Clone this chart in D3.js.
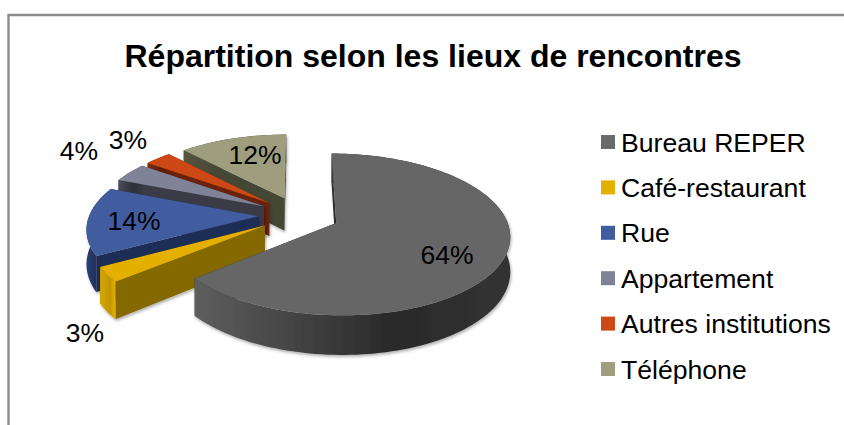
<!DOCTYPE html>
<html>
<head>
<meta charset="utf-8">
<script src="https://cdnjs.cloudflare.com/ajax/libs/d3/7.8.5/d3.min.js"></script>
<style>
  html, body { margin: 0; padding: 0; background: #fff; }
  text { font-family: "Liberation Sans", Arial, sans-serif; fill: #000; }
</style>
</head>
<body>
<div id="canvas"></div>
<script>
// data
const categories = ["Bureau REPER", "Café-restaurant", "Rue", "Appartement", "Autres institutions", "Téléphone"];
const values = [64, 3, 14, 4, 3, 12];
const title = "Répartition selon les lieux de rencontres";

// colours per category
const topColors = ["#666666", "#e3b000", "#425d9f", "#808398", "#cc4a14", "#9e9e7e"];
const cutColors = ["#2e2e2e", "#846800", "#1f2d55", "#3a3b46", "#6b2208", "#454635"];
const wallDark = ["#2a2a2a", "#c09400", "#1a2648", "#2e2f3a", "#5a1c06", "#3a3b2c"];
const wallLight = ["#5e5e5e", "#d8a800", "#2c3f77", "#4b4c5a", "#84300c", "#55563f"];

const width = 844;
const height = 425;

// projection of the pie: unit circle + height, seen from the front
const cx = 299, cy = 215;
const rx = 169, ry = 77, persp = 0.14, depth = 33.5, explode = 0.24;

const project = (x, y, h) => {
    const f = 1 / (1 - persp * y);
    return [cx + rx * x * f, cy + (ry * y + depth * h) * f];
};

const svg = d3.select("#canvas")
    .append("svg")
    .attr("width", width)
    .attr("height", height)
    .attr("viewBox", [0, 0, width, height])
    .style("display", "block");

const defs = svg.append("defs");

defs.append("filter")
    .attr("id", "soft")
    .attr("x", "-10%").attr("y", "-10%").attr("width", "120%").attr("height", "125%")
  .append("feDropShadow")
    .attr("dx", 1).attr("dy", 2)
    .attr("stdDeviation", 1.5)
    .attr("flood-color", "#000")
    .attr("flood-opacity", 0.3);

// frame
svg.append("path")
    .attr("d", d3.line()([[8.5, height], [8.5, 15], [width, 15]]))
    .attr("fill", "none")
    .attr("stroke", "#8c8c8c")
    .attr("stroke-width", 2.4);

svg.append("text")
    .attr("x", 433)
    .attr("y", 67)
    .attr("text-anchor", "middle")
    .attr("font-size", 32)
    .attr("font-weight", "bold")
    .text(title);

// slices
const pie = d3.pie().sort(null).value(d => d)(values);
const line = d3.line();

const slices = pie.map((p, i) => {
    const mid = (p.startAngle + p.endAngle) / 2;
    const ox = explode * Math.sin(mid);
    const oy = -explode * Math.cos(mid);
    const steps = Math.max(4, Math.ceil((p.endAngle - p.startAngle) / 0.03));
    const angles = d3.range(steps + 1).map(k => p.startAngle + (p.endAngle - p.startAngle) * k / steps);
    const rim = angles.map(a => [ox + Math.sin(a), oy - Math.cos(a)]);
    return { i, apex: [ox, oy], rim };
});

// gradient for the curved wall, lit at both ends of the pie
const wallGrad = s => {
    const id = "wall" + s.i;
    const xs = d3.extent(s.rim, d => project(d[0], d[1], 0)[0]);
    const g = defs.append("linearGradient")
        .attr("id", id)
        .attr("gradientUnits", "userSpaceOnUse")
        .attr("x1", xs[0]).attr("x2", xs[1]).attr("y1", 0).attr("y2", 0);
    g.append("stop").attr("offset", "0%").attr("stop-color", wallLight[s.i]);
    g.append("stop").attr("offset", "62%").attr("stop-color", wallDark[s.i]);
    g.append("stop").attr("offset", "100%").attr("stop-color", d3.color(wallDark[s.i]).brighter(0.5));
    return "url(#" + id + ")";
};

const pieG = svg.append("g");

// back to front, Bureau REPER last
slices.slice().reverse().forEach(s => {
    const g = pieG.append("g").attr("filter", "url(#soft)");

    const quad = (a, b) => line([
        project(a[0], a[1], 0), project(b[0], b[1], 0),
        project(b[0], b[1], 1), project(a[0], a[1], 1)
    ]) + "Z";

    // cut faces
    [s.rim[0], s.rim[s.rim.length - 1]].forEach(end => {
        g.append("path")
            .attr("d", quad(s.apex, end))
            .attr("fill", cutColors[s.i]);
    });

    // outer wall
    const wall = s.rim.map(d => project(d[0], d[1], 0))
        .concat(s.rim.slice().reverse().map(d => project(d[0], d[1], 1)));
    g.append("path")
        .attr("d", line(wall) + "Z")
        .attr("fill", wallGrad(s));

    // top face
    const face = [s.apex].concat(s.rim).map(d => project(d[0], d[1], 0));
    g.append("path")
        .attr("d", line(face) + "Z")
        .attr("fill", topColors[s.i]);
});

// data labels, placed as in the chart
const labelPos = [[447, 255], [85, 333], [134, 221], [79, 151], [128, 140], [255, 155]];
svg.append("g")
  .selectAll("text")
  .data(values)
  .join("text")
    .attr("x", (d, i) => labelPos[i][0])
    .attr("y", (d, i) => labelPos[i][1] + 9)
    .attr("text-anchor", "middle")
    .attr("font-size", 26.5)
    .text(d => d + "%");

// legend
const legendY = d3.scalePoint()
    .domain(categories)
    .range([142, 369]);

const legend = svg.append("g")
  .selectAll("g")
  .data(categories)
  .join("g")
    .attr("transform", d => `translate(601,${legendY(d)})`);

legend.append("rect")
    .attr("y", -7)
    .attr("width", 14)
    .attr("height", 14)
    .attr("fill", (d, i) => i === 0 ? "#6b6b6b" : topColors[i]);

legend.append("text")
    .attr("x", 20)
    .attr("y", 9.5)
    .attr("font-size", 26.6)
    .text(d => d);
</script>
</body>
</html>
